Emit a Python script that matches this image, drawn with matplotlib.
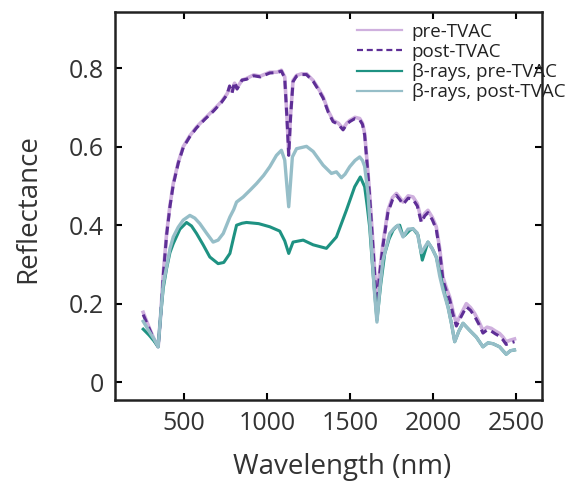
import matplotlib
matplotlib.use("Agg")
import matplotlib.pyplot as plt

plt.rcParams['font.family'] = ['Open Sans', 'DejaVu Sans']

# reflectance spectra
pre_wl = [255, 290, 320, 345, 360, 376, 396, 416, 436, 466, 496, 536, 576, 626, 676,
          726, 760, 775, 790, 805, 820, 850, 877, 920, 960, 1017, 1060, 1087, 1107,
          1120, 1131, 1142, 1157, 1178, 1210, 1238, 1278, 1310, 1338, 1370, 1398,
          1430, 1458, 1480, 1498, 1530, 1558, 1575, 1588, 1603, 1618, 1638, 1652,
          1662, 1675, 1698, 1728, 1755, 1779, 1800, 1819, 1850, 1879, 1905, 1929,
          1950, 1969, 1995, 2019, 2040, 2059, 2080, 2100, 2120, 2140, 2170, 2200,
          2225, 2250, 2275, 2300, 2325, 2350, 2375, 2400, 2420, 2440, 2465, 2490]
pre_tvac = [0.178, 0.14, 0.11, 0.09, 0.17, 0.277, 0.379, 0.45, 0.506, 0.56, 0.6, 0.628,
            0.65, 0.672, 0.693, 0.715, 0.735, 0.75, 0.742, 0.762, 0.75, 0.77, 0.774,
            0.783, 0.78, 0.79, 0.79, 0.795, 0.778, 0.68, 0.583, 0.68, 0.769, 0.782,
            0.786, 0.786, 0.769, 0.748, 0.727, 0.69, 0.667, 0.66, 0.646, 0.66, 0.667,
            0.675, 0.672, 0.66, 0.634, 0.56, 0.481, 0.353, 0.26, 0.209, 0.27, 0.353,
            0.438, 0.47, 0.481, 0.47, 0.459, 0.475, 0.472, 0.455, 0.413, 0.43, 0.438,
            0.42, 0.396, 0.34, 0.268, 0.24, 0.217, 0.18, 0.15, 0.175, 0.2, 0.19, 0.175,
            0.155, 0.132, 0.14, 0.137, 0.13, 0.124, 0.115, 0.103, 0.107, 0.11]
post_tvac = [0.172, 0.138, 0.108, 0.09, 0.168, 0.272, 0.375, 0.447, 0.503, 0.558, 0.598,
             0.626, 0.648, 0.67, 0.69, 0.713, 0.733, 0.755, 0.737, 0.765, 0.747, 0.77,
             0.772, 0.781, 0.778, 0.788, 0.789, 0.793, 0.775, 0.675, 0.578, 0.675, 0.766,
             0.78, 0.784, 0.784, 0.767, 0.745, 0.724, 0.687, 0.664, 0.657, 0.643, 0.657,
             0.664, 0.672, 0.669, 0.657, 0.63, 0.555, 0.475, 0.345, 0.25, 0.2, 0.262,
             0.347, 0.432, 0.464, 0.476, 0.465, 0.453, 0.469, 0.466, 0.449, 0.407, 0.424,
             0.432, 0.414, 0.39, 0.332, 0.26, 0.232, 0.21, 0.172, 0.143, 0.168, 0.192,
             0.183, 0.168, 0.148, 0.125, 0.133, 0.13, 0.123, 0.117, 0.108, 0.096, 0.1,
             0.103]

bpre_wl = [255, 290, 320, 345, 360, 376, 396, 416, 436, 476, 516, 546, 576, 616, 656,
           706, 740, 777, 800, 817, 850, 877, 950, 1017, 1077, 1107, 1131, 1157, 1218,
           1278, 1358, 1418, 1478, 1528, 1562, 1588, 1603, 1618, 1638, 1662, 1685, 1709,
           1735, 1759, 1779, 1799, 1819, 1829, 1859, 1879, 1909, 1935, 1969, 1995, 2019,
           2040, 2059, 2090, 2110, 2130, 2155, 2180, 2220, 2260, 2300, 2330, 2360, 2400,
           2440, 2465, 2490]
beta_pre = [0.135, 0.12, 0.105, 0.09, 0.17, 0.24, 0.29, 0.33, 0.353, 0.39, 0.407, 0.398,
            0.379, 0.35, 0.319, 0.302, 0.305, 0.328, 0.37, 0.4, 0.405, 0.407, 0.404,
            0.396, 0.385, 0.36, 0.328, 0.357, 0.362, 0.35, 0.341, 0.37, 0.438, 0.498,
            0.523, 0.498, 0.45, 0.396, 0.28, 0.158, 0.25, 0.328, 0.365, 0.387, 0.397,
            0.4, 0.372, 0.374, 0.387, 0.391, 0.375, 0.311, 0.357, 0.34, 0.319, 0.28,
            0.243, 0.192, 0.15, 0.103, 0.13, 0.15, 0.132, 0.115, 0.09, 0.1, 0.098, 0.09,
            0.071, 0.08, 0.082]

bpost_wl = [255, 290, 320, 345, 360, 376, 396, 416, 436, 466, 496, 536, 566, 596, 636,
            676, 706, 737, 777, 800, 817, 857, 900, 937, 980, 1017, 1057, 1087, 1107,
            1120, 1131, 1142, 1153, 1178, 1238, 1278, 1338, 1388, 1418, 1448, 1470, 1498,
            1530, 1558, 1575, 1588, 1608, 1628, 1645, 1662, 1680, 1698, 1739, 1765, 1789,
            1819, 1849, 1879, 1905, 1929, 1969, 1995, 2019, 2040, 2059, 2090, 2110, 2130,
            2155, 2180, 2220, 2260, 2300, 2330, 2360, 2400, 2440, 2465, 2490]
beta_post = [0.155, 0.13, 0.11, 0.09, 0.17, 0.25, 0.294, 0.34, 0.37, 0.395, 0.413, 0.425,
             0.418, 0.404, 0.38, 0.357, 0.362, 0.379, 0.421, 0.44, 0.459, 0.472, 0.49,
             0.506, 0.527, 0.549, 0.578, 0.591, 0.566, 0.5, 0.447, 0.51, 0.574, 0.595,
             0.601, 0.588, 0.553, 0.532, 0.536, 0.521, 0.53, 0.549, 0.565, 0.574, 0.565,
             0.55, 0.481, 0.353, 0.24, 0.153, 0.24, 0.311, 0.379, 0.392, 0.4, 0.37, 0.39,
             0.391, 0.38, 0.33, 0.357, 0.34, 0.319, 0.27, 0.236, 0.19, 0.15, 0.103, 0.13,
             0.15, 0.132, 0.115, 0.09, 0.1, 0.098, 0.09, 0.071, 0.08, 0.082]

xticks = [500, 1000, 1500, 2000, 2500]
yticks = [0, 0.2, 0.4, 0.6, 0.8]
ytick_labels = ['0', '0.2', '0.4', '0.6', '0.8']

fig = plt.figure(figsize=(5.69, 4.88), dpi=100)
ax = fig.add_axes([0.202, 0.18, 0.751, 0.795])

ax.plot(pre_wl, pre_tvac, color='#cfb0de', lw=2.6, label='pre-TVAC')
ax.plot(pre_wl, post_tvac, color='#5e2e96', lw=2.2, dashes=(2.7, 1.7), label='post-TVAC')
ax.plot(bpre_wl, beta_pre, color='#1e9282', lw=2.2, label='β-rays, pre-TVAC')
ax.plot(bpost_wl, beta_post, color='#96bec8', lw=2.4, label='β-rays, post-TVAC')

ax.set_xlim(85, 2657)
ax.set_ylim(-0.046, 0.943)
ax.set_xticks(xticks)
ax.set_yticks(yticks)
ax.set_yticklabels(ytick_labels)
ax.tick_params(direction='in', length=5, width=1.5, top=True, right=True,
               labelsize=18, labelcolor='#333333', pad=8)
for s in ax.spines.values():
    s.set_linewidth(1.8)
    s.set_color('#222222')

ax.set_xlabel('Wavelength (nm)', fontsize=20, color='#333333')
ax.set_ylabel('Reflectance', fontsize=20, color='#333333')
ax.xaxis.set_label_coords(0.532, -0.135)
ax.yaxis.set_label_coords(-0.17, 0.495)

leg = ax.legend(loc='upper left', bbox_to_anchor=(0.545, 0.997), frameon=False,
                fontsize=13.5, labelspacing=0.12, handlelength=2.4, handletextpad=0.5,
                borderpad=0, labelcolor='#222222')
for h in leg.get_lines():
    h.set_linewidth(1.6)

fig.savefig('out.png', dpi=100)
